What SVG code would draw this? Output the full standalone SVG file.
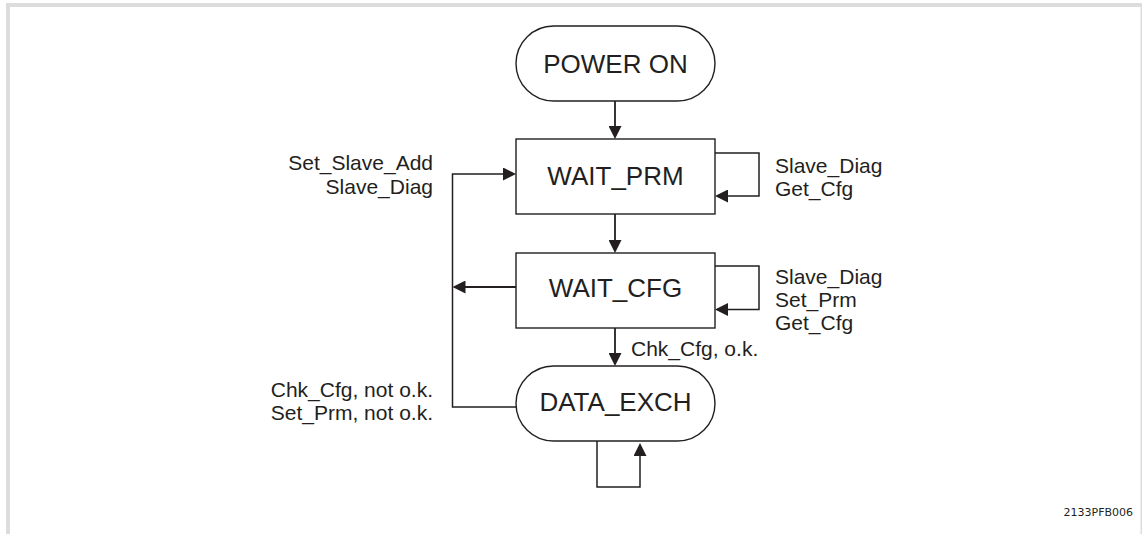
<svg xmlns="http://www.w3.org/2000/svg" width="1142" height="534" viewBox="0 0 1142 534">
<style>
.frame{fill:#dcdcdc;stroke:none}
.node{fill:#ffffff;stroke:#231f20;stroke-width:1.4}
.big{font-family:"Liberation Sans",Arial,sans-serif;font-size:26px;fill:#231f20;text-anchor:middle}
.lbl{font-family:"Liberation Sans",Arial,sans-serif;font-size:21px;fill:#231f20}
.end{text-anchor:end}
.conn{fill:none;stroke:#231f20;stroke-width:1.8}
.loop{fill:none;stroke:#231f20;stroke-width:1.5}
.code{font-family:"DejaVu Sans",sans-serif;font-size:11px;fill:#231f20;text-anchor:end}
</style>
<defs>
<marker id="ah" markerUnits="userSpaceOnUse" viewBox="0 0 13 13" markerWidth="13" markerHeight="13" refX="11" refY="6.5" orient="auto">
<path d="M0,0 L13,6.5 L0,13 z" fill="#231f20"/>
</marker>
</defs>
<rect width="1142" height="534" fill="#ffffff"/>
<g id="frame">
<rect class="frame" x="6" y="3" width="1136" height="4"/>
<rect class="frame" x="6" y="3" width="4" height="531"/>
<rect class="frame" x="1140.5" y="7" width="1.5" height="527"/>
</g>
<g id="connectors">
<path class="conn" d="M615,101 V137" marker-end="url(#ah)"/>
<path class="conn" d="M615,214 V251" marker-end="url(#ah)"/>
<path class="conn" d="M615,328 V364" marker-end="url(#ah)"/>
<path class="loop" d="M715,153 H759 V196 H717" marker-end="url(#ah)"/>
<path class="loop" d="M715,266 H759 V309.5 H717" marker-end="url(#ah)"/>
<path class="conn" d="M516,287 H454.5" marker-end="url(#ah)"/>
<path class="loop" d="M516,407 H452.5 V174 H514" marker-end="url(#ah)"/>
<path class="loop" d="M597,441 V487 H640 V445" marker-end="url(#ah)"/>
</g>
<g id="power_on">
<rect class="node" x="516" y="26" width="199" height="75" rx="37.5" ry="37.5"/>
<text class="big" x="615.5" y="73">POWER ON</text>
</g>
<g id="wait_prm">
<rect class="node" x="516" y="139" width="199" height="75"/>
<text class="big" x="615.5" y="185">WAIT_PRM</text>
</g>
<g id="wait_cfg">
<rect class="node" x="516" y="253" width="199" height="75"/>
<text class="big" x="615.5" y="296.5">WAIT_CFG</text>
</g>
<g id="data_exch">
<rect class="node" x="516" y="366" width="199" height="75" rx="37.5" ry="37.5"/>
<text class="big" x="615.5" y="411">DATA_EXCH</text>
</g>
<g id="labels">
<text class="lbl end" x="433" y="170">Set_Slave_Add</text>
<text class="lbl end" x="433" y="194">Slave_Diag</text>
<text class="lbl end" x="433" y="397">Chk_Cfg, not o.k.</text>
<text class="lbl end" x="433" y="420">Set_Prm, not o.k.</text>
<text class="lbl" x="775" y="172.5">Slave_Diag</text>
<text class="lbl" x="775" y="195.5">Get_Cfg</text>
<text class="lbl" x="775" y="283.5">Slave_Diag</text>
<text class="lbl" x="775" y="306.5">Set_Prm</text>
<text class="lbl" x="775" y="330">Get_Cfg</text>
<text class="lbl" x="631" y="356">Chk_Cfg, o.k.</text>
<text class="code" x="1133" y="516">2133PFB006</text>
</g>
</svg>
